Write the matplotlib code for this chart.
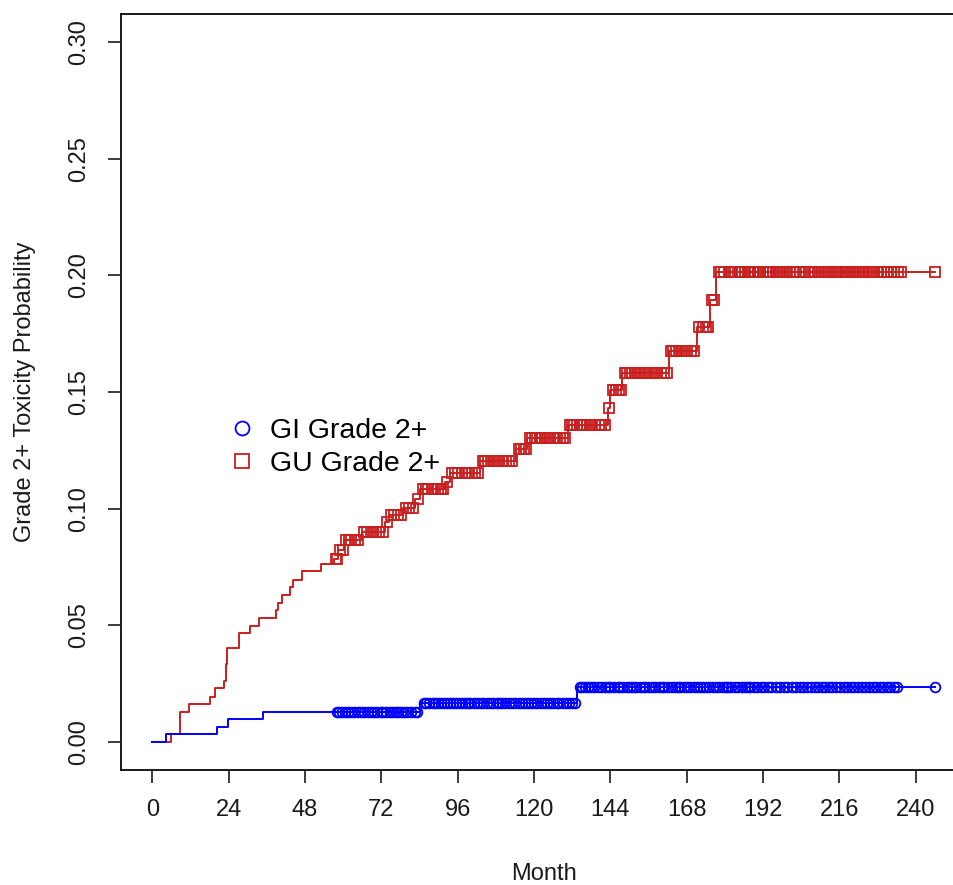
import numpy as np
import matplotlib
matplotlib.use("Agg")
import matplotlib.pyplot as plt
from matplotlib.lines import Line2D

plt.rcParams['font.family'] = ['Liberation Sans', 'DejaVu Sans']

# cumulative incidence, step function (time in months)
gi_time = [0, 4.3, 20.2, 23.7, 34.7, 84.0, 133.5]
gi_cif = [0, 0.0033, 0.0066, 0.0098, 0.0129, 0.0169, 0.0234]

gu_time = [0, 5.9, 8.7, 11.6, 18.2, 19.8, 22.7, 23.2, 23.5, 27.4, 30.8, 33.7,
           38.9, 39.4, 40.8, 43.3, 44.1, 47.1, 53.1, 57.0, 58.5, 60.3, 65.8,
           73.2, 74.3, 78.8, 82.6, 84.2, 92.0, 93.5, 103.0, 114.4, 117.9,
           130.6, 143.1, 144.0, 147.7, 162.4, 171.2, 175.2, 177.2]
gu_cif = [0, 0.0033, 0.0129, 0.0162, 0.0195, 0.0230, 0.0263, 0.0334, 0.0402,
          0.0466, 0.0499, 0.0531, 0.0564, 0.0597, 0.0631, 0.0664, 0.0696,
          0.0733, 0.0765, 0.0786, 0.0822, 0.0865, 0.0901, 0.0944, 0.0973,
          0.1002, 0.1040, 0.1083, 0.1116, 0.1155, 0.1206, 0.1256, 0.1303,
          0.1360, 0.1432, 0.1508, 0.1583, 0.1675, 0.1780, 0.1895, 0.2013]

last_followup = 246.0

# censoring times
gi_censor = [58.0, 58.8, 59.6, 60.5, 61.6, 62.5, 63.4, 64.6, 65.5, 66.6, 67.8,
             68.9, 69.8, 70.7, 71.8, 72.6, 73.5, 74.6, 75.6, 76.5, 77.3, 78.1,
             79.0, 80.0, 81.2, 82.5, 83.3,
             85.3, 86.0, 87.0, 88.1, 89.0, 89.9, 90.8, 91.7, 92.6, 93.5, 94.5,
             95.4, 96.3, 97.4, 98.3, 99.1, 100.0, 101.0, 102.0, 103.0, 104.0,
             105.2, 106.1, 107.0, 108.2, 109.1, 110.0, 111.0, 112.2, 113.1,
             114.0, 115.2, 116.1, 117.0, 118.1, 119.0, 120.0, 121.0, 122.1,
             123.0, 124.0, 125.0, 126.0, 127.1, 128.0, 129.0, 130.1, 131.0,
             132.0, 132.9,
             134.3, 135.2, 136.1, 137.0, 137.9, 139.0, 140.1, 141.0, 142.2,
             143.1, 144.0, 145.2, 146.3, 147.1, 148.0, 149.3, 150.2, 151.1,
             152.0, 153.2, 154.1, 155.0, 156.2, 157.1, 158.0, 159.3, 160.1,
             161.0, 162.1, 163.3, 164.2, 165.1, 166.0, 167.2, 168.1, 169.0,
             170.2, 171.1, 172.3, 173.2, 174.1, 175.0, 176.2, 177.1, 178.0,
             179.3, 180.2, 181.1, 182.0, 183.2, 184.1, 185.3, 186.2, 187.1,
             188.0, 189.2, 190.1, 191.3, 192.2, 193.5, 194.6, 196.0, 197.2,
             198.5, 199.6, 201.0, 202.3, 203.5, 204.6, 205.8, 207.1, 208.3,
             209.2, 210.4, 211.5, 212.6, 213.8, 215.0, 216.1, 217.3, 218.4,
             219.5, 220.6, 221.8, 223.0, 224.1, 225.3, 226.4, 227.5, 228.6,
             229.8, 230.9, 232.0, 233.1, 234.2, 246.0]

gu_censor = [57.6, 58.2, 59.0, 59.8, 61.0, 61.8, 62.6, 63.6, 64.8,
             66.5, 67.4, 68.6, 69.5, 70.4, 71.3, 72.4, 73.7,
             75.0, 76.0, 77.2, 78.2, 79.6, 80.8, 82.0, 83.4,
             85.0, 85.9, 86.8, 87.9, 88.8, 89.9, 90.8, 91.5, 92.7,
             94.3, 95.3, 96.2, 97.4, 98.5, 99.6, 100.5, 101.4, 102.3,
             103.8, 104.6, 105.4, 106.6, 107.5, 108.3, 109.1, 110.2, 111.3,
             112.1, 113.2, 115.2, 116.0, 116.9, 117.5,
             118.6, 119.3, 120.2, 120.9, 121.8, 122.6, 123.4, 124.3, 125.1,
             126.2, 127.3, 128.1, 129.0, 129.8,
             131.2, 131.9, 132.7, 133.5, 134.3, 135.1, 135.8, 136.6, 137.5,
             138.3, 139.2, 140.3, 141.1, 142.2, 143.5,
             144.8, 145.7, 146.6, 147.2,
             148.5, 149.3, 150.2, 150.9, 151.8, 152.6, 153.4, 154.5, 155.3,
             156.1, 157.2, 158.0, 158.8, 159.9, 160.8, 161.7,
             163.0, 163.8, 164.6, 165.6, 166.5, 167.3, 168.2, 169.4, 170.3,
             172.0, 173.0, 173.9, 174.7, 175.9, 176.6,
             178.0, 178.8, 179.7, 181.5, 182.3, 183.2, 184.0, 184.8, 185.5,
             186.3, 187.1, 188.0, 188.7, 189.5, 190.3, 191.1, 192.0, 192.8,
             193.6, 194.3, 195.2, 196.0, 196.9, 197.7, 198.6, 199.5, 200.4,
             201.4, 202.3, 203.6, 204.8, 206.3, 207.5, 208.4, 209.3, 210.3,
             211.2, 212.0, 212.8, 213.7, 214.5, 215.3, 216.2, 217.0, 217.9,
             218.7, 219.5, 220.3, 221.0, 221.8, 222.6, 223.5, 224.4, 225.3,
             226.2, 227.0, 228.0, 229.0, 230.0, 231.0, 232.2, 233.2, 234.3,
             235.3, 246.0]

x_ticks = list(range(0, 241, 24))
y_ticks = [0.00, 0.05, 0.10, 0.15, 0.20, 0.25, 0.30]

gi_color = '#0000FF'
gu_color = '#CA1F1F'


def step_value(times, cif, t):
    idx = np.searchsorted(times, t, side='right') - 1
    return np.asarray(cif)[idx]


def draw_curve(ax, times, cif, censor, color, marker, ms):
    xs = list(times) + [last_followup]
    ys = list(cif) + [cif[-1]]
    ax.step(xs, ys, where='post', color=color, lw=1.4)
    ax.plot(censor, step_value(times, cif, censor), ls='none', marker=marker,
            ms=ms, mfc='none', mec=color, mew=1.3)


fig = plt.figure(figsize=(9.54, 8.85), dpi=100)
ax = fig.add_axes([0.1268, 0.1299, 0.886, 0.8542])

draw_curve(ax, gu_time, gu_cif, gu_censor, gu_color, 's', 7.5)
draw_curve(ax, gi_time, gi_cif, gi_censor, gi_color, 'o', 7)

ax.set_xlim(-9.84, 255.84)
ax.set_ylim(-0.012, 0.312)
ax.set_xticks(x_ticks)
ax.set_yticks(y_ticks)
ax.set_xticklabels([str(v) for v in x_ticks])
ax.set_yticklabels(['%.2f' % v for v in y_ticks], rotation=90, va='center')
ax.tick_params(direction='out', length=9.5, width=1.2, labelsize=17,
               colors='#1a1a1a')
ax.tick_params(axis='x', pad=11)
ax.tick_params(axis='y', pad=13)
for s in ax.spines.values():
    s.set_linewidth(1.4)
    s.set_color('#1a1a1a')

ax.set_xlabel('Month', fontsize=17, color='#1a1a1a')
ax.xaxis.label.set_va('center')
ax.xaxis.set_label_coords(0.5, -0.138)
ax.set_ylabel('Grade 2+ Toxicity Probability', fontsize=17, color='#1a1a1a')
ax.yaxis.label.set_va('center')
ax.yaxis.set_label_coords(-0.1136, 0.5)

handles = [Line2D([], [], ls='none', marker='o', ms=10, mfc='none',
                  mec=gi_color, mew=1.3),
           Line2D([], [], ls='none', marker='s', ms=10, mfc='none',
                  mec=gu_color, mew=1.3)]
ax.legend(handles, ['GI Grade 2+', 'GU Grade 2+'], loc='center left',
          bbox_to_anchor=(0.1263, 0.4266), frameon=False, fontsize=20.5,
          handlelength=1.0, handletextpad=0.48, labelspacing=0.26,
          borderpad=0, borderaxespad=0)

fig.savefig('out.png', dpi=100)
